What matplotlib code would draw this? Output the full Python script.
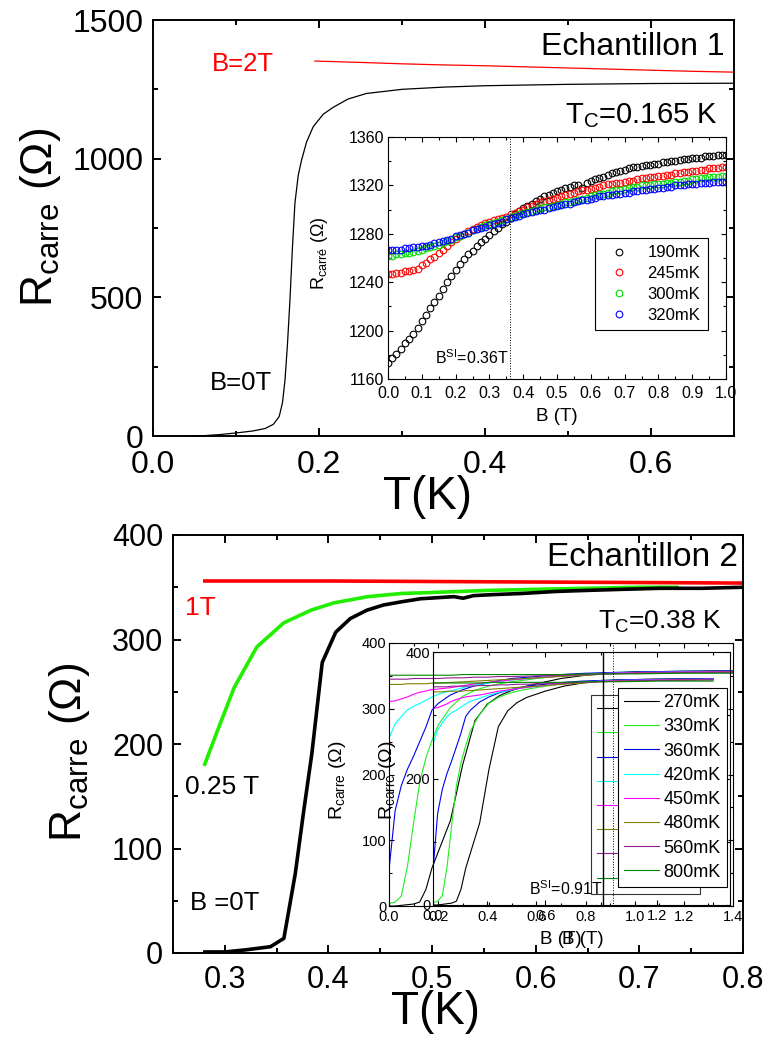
import matplotlib

matplotlib.use("Agg")
import matplotlib.pyplot as plt
from matplotlib.ticker import MultipleLocator

plt.rcParams.update({
    "font.family": ["Liberation Sans", "DejaVu Sans"],
    "mathtext.fontset": "custom",
    "mathtext.rm": "Liberation Sans",
    "mathtext.it": "Liberation Sans:italic",
    "mathtext.bf": "Liberation Sans:bold",
    "axes.linewidth": 1.4,
})

W, H = 768, 1044

# ---- sample 1, main panel: R(T)
t_b0 = [0.04, 0.06, 0.08, 0.10, 0.12, 0.135, 0.145, 0.152, 0.156, 0.159, 0.162, 0.165,
        0.168, 0.171, 0.175, 0.179, 0.185, 0.193, 0.205, 0.217, 0.235, 0.257, 0.30,
        0.35, 0.40, 0.50, 0.60, 0.70]
r_b0 = [0, 1, 5, 11, 18, 27, 42, 70, 120, 200, 330, 490,
        680, 840, 940, 995, 1060, 1115, 1160, 1185, 1215, 1235, 1250,
        1258, 1263, 1268, 1271, 1272]
t_b2 = [0.195, 0.25, 0.30, 0.35, 0.40, 0.45, 0.50, 0.55, 0.60, 0.65, 0.70]
r_b2 = [1352, 1347, 1342, 1338, 1335, 1331, 1327, 1323, 1319, 1315, 1312]

# ---- sample 1, inset: R(B) at several temperatures, field step 0.0125 T
b_in1 = [i * 0.0125 for i in range(81)]
r_190 = (
    [1173, 1177, 1181, 1185, 1190, 1193, 1197, 1202, 1208, 1213]
    + [1219, 1224, 1229, 1234, 1240, 1245, 1250, 1255, 1259, 1263]
    + [1266, 1270, 1273, 1276, 1279, 1282, 1285, 1288, 1290, 1293]
    + [1296, 1299, 1301, 1303, 1305, 1307, 1309, 1311, 1312, 1314]
    + [1315, 1316, 1318, 1319, 1320, 1320, 1318, 1322, 1324, 1325]
    + [1326, 1327, 1329, 1330, 1331, 1332, 1333, 1334, 1335, 1335]
    + [1336, 1337, 1337, 1338, 1338, 1339, 1339, 1340, 1340, 1341]
    + [1342, 1342, 1343, 1343, 1343, 1344, 1344, 1344, 1345, 1345]
    + [1345]
)
r_245 = (
    [1247, 1247, 1248, 1248, 1249, 1249, 1250, 1251, 1254, 1256]
    + [1259, 1261, 1264, 1267, 1270, 1273, 1276, 1278, 1280, 1282]
    + [1284, 1286, 1287, 1289, 1290, 1291, 1292, 1293, 1294, 1296]
    + [1297, 1299, 1300, 1302, 1303, 1305, 1306, 1307, 1308, 1309]
    + [1310, 1311, 1312, 1313, 1314, 1315, 1316, 1316, 1317, 1318]
    + [1319, 1320, 1321, 1321, 1322, 1322, 1323, 1324, 1324, 1325]
    + [1326, 1326, 1327, 1327, 1328, 1328, 1329, 1329, 1330, 1330]
    + [1331, 1331, 1332, 1332, 1333, 1333, 1334, 1334, 1334, 1335]
    + [1335]
)
r_300 = (
    [1262, 1262, 1263, 1263, 1264, 1264, 1265, 1266, 1267, 1268]
    + [1269, 1270, 1271, 1272, 1274, 1275, 1277, 1278, 1280, 1281]
    + [1283, 1284, 1286, 1287, 1288, 1289, 1290, 1291, 1292, 1294]
    + [1295, 1296, 1297, 1298, 1299, 1300, 1301, 1302, 1302, 1303]
    + [1304, 1305, 1306, 1306, 1307, 1308, 1309, 1310, 1311, 1312]
    + [1313, 1313, 1314, 1315, 1316, 1316, 1317, 1318, 1319, 1319]
    + [1320, 1320, 1320, 1321, 1321, 1321, 1322, 1322, 1323, 1323]
    + [1324, 1324, 1325, 1325, 1326, 1326, 1327, 1327, 1327, 1328]
    + [1328]
)
r_320 = (
    [1267, 1267, 1267, 1267, 1268, 1268, 1269, 1269, 1270, 1270]
    + [1271, 1272, 1273, 1274, 1275, 1276, 1278, 1279, 1280, 1281]
    + [1283, 1284, 1285, 1286, 1287, 1288, 1289, 1290, 1292, 1293]
    + [1294, 1295, 1296, 1297, 1298, 1299, 1300, 1300, 1301, 1302]
    + [1303, 1304, 1305, 1305, 1306, 1307, 1308, 1308, 1309, 1310]
    + [1311, 1311, 1312, 1312, 1313, 1313, 1314, 1314, 1315, 1315]
    + [1316, 1316, 1317, 1317, 1318, 1318, 1319, 1319, 1320, 1320]
    + [1320, 1321, 1321, 1321, 1322, 1322, 1322, 1323, 1323, 1323]
    + [1323]
)
in1_series = [("190mK", "black", r_190), ("245mK", "red", r_245),
              ("300mK", "#00dd00", r_300), ("320mK", "blue", r_320)]

# ---- sample 2, main panel: R(T)
t2_b0 = [0.279, 0.30, 0.32, 0.344, 0.357, 0.368, 0.376, 0.384, 0.394, 0.407, 0.421,
         0.437, 0.453, 0.47, 0.489, 0.505, 0.521, 0.53, 0.54, 0.56, 0.586, 0.62, 0.65,
         0.683, 0.72, 0.76, 0.80]
r2_b0 = [1, 1, 3, 6, 14, 76, 135, 191, 278, 307, 320,
         328, 333, 336, 339, 340, 341, 339.5, 342, 343, 344, 346, 347,
         348, 349, 349, 350]
t2_b025 = [0.28, 0.293, 0.309, 0.331, 0.357, 0.383, 0.405, 0.438, 0.47, 0.50, 0.554,
           0.60, 0.651, 0.70, 0.738]
r2_b025 = [179, 213, 254, 293, 316, 328, 335, 341, 344, 345, 347, 348, 349, 350, 350]
t2_b1 = [0.279, 0.40, 0.50, 0.60, 0.70, 0.80]
r2_b1 = [356, 356, 355.5, 355, 354.5, 354]

# ---- sample 2, inset: R(B) at several temperatures
b_in2 = [0, 0.025, 0.05, 0.075, 0.1, 0.125, 0.15, 0.175, 0.2, 0.25, 0.3, 0.35, 0.4,
         0.45, 0.5, 0.6, 0.7, 0.8, 0.9, 1.0, 1.2, 1.5]
r_270 = [0, 0, 1, 2, 3, 6, 25, 58, 82, 130, 215, 282, 307, 320, 328, 338, 346, 351,
         354, 356, 357, 358]
r_330 = [4, 6, 15, 60, 126, 188, 225, 252, 275, 302, 319, 328, 334, 338, 341, 346, 350,
         353, 355, 356, 357, 358]
r_360 = [55, 145, 183, 208, 228, 250, 272, 298, 308, 321, 329, 335, 339, 343, 346, 349,
         352, 354, 355, 356, 357, 358]
r_420 = [255, 277, 288, 298, 304, 308, 313, 318, 322, 327, 332, 336, 339, 342, 344, 347,
         350, 352, 354, 355, 356, 357]
r_450 = [311, 312, 315, 318, 322, 325, 327, 329, 330, 332, 335, 338, 340, 342, 344, 347,
         350, 352, 354, 355, 356, 357]
r_480 = [337, 337, 337, 338, 338, 338, 338, 339, 339, 340, 341, 342, 343, 344, 345, 347,
         349, 351, 353, 354, 355, 356]
r_560 = [345, 345, 345, 345, 346, 346, 346, 346, 346, 347, 347, 348, 348, 349, 349, 350,
         351, 352, 353, 354, 355, 356]
r_800 = [351, 351, 351, 351, 351, 351, 351, 351, 351, 351, 352, 352, 352, 352, 352, 352,
         352, 353, 353, 353, 354, 354]
in2_series = [("270mK", "black", r_270), ("330mK", "#22ee22", r_330),
              ("360mK", "#0000ee", r_360), ("420mK", "#00ffff", r_420),
              ("450mK", "#ff00ff", r_450), ("480mK", "#808000", r_480),
              ("560mK", "#902090", r_560), ("800mK", "#008800", r_800)]


def px_axes(fig, l, t, r, b, **kw):
    return fig.add_axes([l / W, 1 - b / H, (r - l) / W, (b - t) / H], **kw)


def ftext(fig, x, y, s, **kw):
    kw.setdefault("ha", "center")
    kw.setdefault("va", "center")
    fig.text(x / W, 1 - y / H, s, **kw)


def style(ax, xmaj, xmin, ymaj, ymin, lw, lmaj, lmin, fs, xpad=4, ypad=4):
    ax.xaxis.set_major_locator(MultipleLocator(xmaj))
    ax.xaxis.set_minor_locator(MultipleLocator(xmin))
    ax.yaxis.set_major_locator(MultipleLocator(ymaj))
    ax.yaxis.set_minor_locator(MultipleLocator(ymin))
    ax.tick_params(which="both", direction="in", top=True, right=True, width=lw)
    ax.tick_params(which="major", length=lmaj, labelsize=fs)
    ax.tick_params(which="minor", length=lmin)
    ax.tick_params(axis="x", which="major", pad=xpad)
    ax.tick_params(axis="y", which="major", pad=ypad)
    for s in ax.spines.values():
        s.set_linewidth(lw)


fig = plt.figure(figsize=(W / 100, H / 100), dpi=100, facecolor="white")

# ================= top: sample 1 =================
ax1 = px_axes(fig, 153, 20, 734, 436)
ax1.plot(t_b0, r_b0, color="black", lw=0.9)
ax1.plot(t_b2, r_b2, color="red", lw=0.9)
ax1.set_xlim(0, 0.7)
ax1.set_ylim(0, 1500)
style(ax1, 0.2, 0.1, 500, 250, 1.4, 6, 3.5, 23, xpad=10, ypad=7)
ax1.xaxis.set_major_formatter(lambda v, p: f"{v:.1f}")
ax1.text(0.071, 1341, "B=2T", color="red", fontsize=18.5, ha="left", va="center")
ax1.text(0.069, 191, "B=0T", color="black", fontsize=18.5, ha="left", va="center")
ftext(fig, 725, 47, "Echantillon 1", fontsize=23, ha="right")
ftext(fig, 565, 116, "T$_{\\rm C}$=0.165 K", fontsize=21, ha="left")
ftext(fig, 41, 217, "R$_{\\rm carre}$ (Ω)", fontsize=32, rotation=90)
ftext(fig, 427, 497, "T(K)", fontsize=33)

axi1 = px_axes(fig, 388, 137, 726, 379)
for lab, col, vals in in1_series:
    axi1.plot(b_in1, vals, "o", ms=4.8, mfc="none", mec=col, mew=0.8, label=lab)
axi1.axvline(0.362, color="black", lw=0.7, ls=":")
axi1.set_xlim(0, 1.0)
axi1.set_ylim(1160, 1360)
style(axi1, 0.1, 0.05, 40, 20, 0.8, 3.5, 2, 11.5, xpad=5, ypad=3)
axi1.xaxis.set_major_formatter(lambda v, p: f"{v:.1f}")
axi1.text(0.139, 1172, "B$^{\\rm SI}$=0.36T", fontsize=11.5, ha="left", va="baseline")
axi1.legend(loc="upper left", bbox_to_anchor=(0.612, 0.583), fontsize=12,
            frameon=True, fancybox=False, edgecolor="black", framealpha=1,
            borderaxespad=0, handletextpad=0.7, borderpad=0.45, labelspacing=0.35,
            markerscale=1.0).get_frame().set_linewidth(0.8)
ftext(fig, 320, 253, "R$_{\\rm carré}$ (Ω)", fontsize=13, rotation=90)
ftext(fig, 557, 417, "B (T)", fontsize=13.5)

# ================= bottom: sample 2 =================
ax2 = px_axes(fig, 173, 535, 743, 953)
ax2.plot(t2_b1, r2_b1, color="red", lw=2.6, solid_capstyle="butt")
ax2.plot(t2_b025, r2_b025, color="#22ee00", lw=2.6, solid_capstyle="butt")
ax2.plot(t2_b0, r2_b0, color="black", lw=2.6, solid_capstyle="butt")
ax2.set_xlim(0.25, 0.8)
ax2.set_ylim(0, 400)
style(ax2, 0.1, 0.05, 100, 50, 1.4, 6, 3.5, 22, xpad=9, ypad=7)
ax2.text(0.2612, 330, "1T", color="red", fontsize=19, ha="left", va="center")
ax2.text(0.2612, 159, "0.25 T", color="black", fontsize=19, ha="left", va="center")
ax2.text(0.2660, 48, "B =0T", color="black", fontsize=18.5, ha="left", va="center")
ftext(fig, 738, 557, "Echantillon 2", fontsize=24, ha="right")
ftext(fig, 722, 622, "T$_{\\rm C}$=0.38 K", fontsize=19, ha="right")
ftext(fig, 69, 752, "R$_{\\rm carre}$ (Ω)", fontsize=32, rotation=90)
ftext(fig, 436, 1012, "T(K)", fontsize=33)

# inset of sample 2: two overlaid copies of the same field sweep
axA = px_axes(fig, 389, 643, 733, 906)
axB = px_axes(fig, 433, 652, 730, 905)
axB.patch.set_alpha(0)
for ax, xmax in ((axA, 1.4), (axB, 1.59)):
    for lab, col, vals in in2_series:
        ax.plot(b_in2, vals, color=col, lw=0.8, label=lab)
    ax.set_xlim(0, xmax)
    ax.set_ylim(0, 400)
    ax.xaxis.set_major_formatter(lambda v, p: f"{v:.1f}")
style(axA, 0.2, 0.1, 100, 50, 0.8, 3.5, 2, 10.5, xpad=3, ypad=2)
style(axB, 0.6, 0.3, 200, 100, 0.8, 3.5, 2, 10.5, xpad=3, ypad=2)
axA.axvline(0.91, color="black", lw=0.7, ls=":")
axB.axvline(0.91, color="black", lw=1.0)
axA.text(0.868, 16, "B$^{\\rm SI}$=0.91T", fontsize=11.5, ha="right", va="baseline")
leg_kw = dict(fontsize=13, frameon=True, fancybox=False, edgecolor="black",
              borderaxespad=0, handlelength=1.9, handletextpad=0.25,
              borderpad=0.35, labelspacing=0.4)
legA = axA.legend(loc="upper left", bbox_to_anchor=(0.587, 0.802), facecolor="none",
                  **leg_kw)
legA.get_frame().set_linewidth(0.8)
legB = axB.legend(loc="upper left", bbox_to_anchor=(0.623, 0.858), facecolor="white",
                  framealpha=1, **leg_kw)
legB.get_frame().set_linewidth(0.8)
ftext(fig, 338, 780, "R$_{\\rm carre}$ (Ω)", fontsize=14, rotation=90)
ftext(fig, 388, 780, "R$_{\\rm carre}$ (Ω)", fontsize=14, rotation=90)
ftext(fig, 561, 939, "B (T)", fontsize=13.5)
ftext(fig, 583, 939, "B (T)", fontsize=13.5)

fig.savefig("out.png", dpi=100, facecolor="white")
